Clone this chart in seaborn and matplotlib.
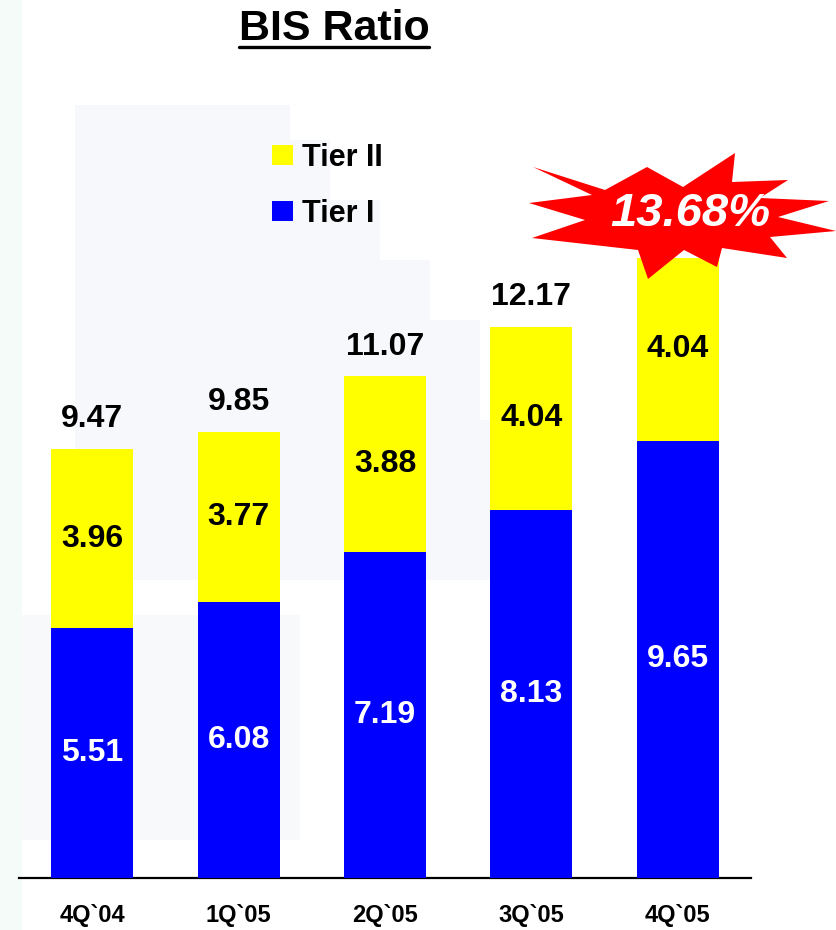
import matplotlib
matplotlib.use("Agg")
import matplotlib.pyplot as plt
from matplotlib.patches import Polygon, Patch
from matplotlib.lines import Line2D
import seaborn as sns
import pandas as pd

# Quarterly BIS capital ratio (%)
quarters = ["4Q`04", "1Q`05", "2Q`05", "3Q`05", "4Q`05"]
tier1 = [5.51, 6.08, 7.19, 8.13, 9.65]
tier2 = [3.96, 3.77, 3.88, 4.04, 4.04]
totals = [9.47, 9.85, 11.07, 12.17, 13.68]
headline = "13.68%"

YELLOW = "#ffff00"
BLUE = "#0000ff"

sns.set_theme(style="white")
plt.rcParams["font.family"] = ["Liberation Sans", "DejaVu Sans"]

W, H = 836, 930
fig = plt.figure(figsize=(W / 100, H / 100), dpi=100)
fig.patch.set_facecolor("white")


def px(x, y):
    """Pixel position (origin top-left) to figure fraction."""
    return x / W, 1 - y / H


# faint stepped backdrop shapes
steps = [(75, 105), (290, 105), (290, 140), (330, 140), (330, 200),
         (380, 200), (380, 260), (430, 260), (430, 320), (480, 320),
         (480, 420), (530, 420), (530, 580), (75, 580)]
for pts, col in [
    (steps, "#f6f8fc"),
    ([(0, 615), (300, 615), (300, 840), (0, 840)], "#f7f9fb"),
    ([(0, 0), (22, 0), (22, 930), (0, 930)], "#f5fbf9"),
]:
    fig.patches.append(Polygon([px(*p) for p in pts], closed=True,
                               transform=fig.transFigure, facecolor=col,
                               edgecolor="none", zorder=-10))

ax = fig.add_axes([19 / W, 52 / H, 732 / W, 861 / H])
ax.patch.set_alpha(0)

df = pd.DataFrame({"quarter": quarters, "tier1": tier1, "tier2": tier2})
df["stack"] = df["tier1"] + df["tier2"]

# stacked bars: full stack in yellow, Tier I drawn over it in blue
sns.barplot(data=df, x="quarter", y="stack", color=YELLOW, saturation=1,
            width=0.56, ax=ax, linewidth=0, zorder=2)
sns.barplot(data=df, x="quarter", y="tier1", color=BLUE, saturation=1,
            width=0.56, ax=ax, linewidth=0, zorder=3)

ax.set_xlim(-0.5, len(quarters) - 0.5)
ax.set_ylim(0, 19)
ax.set_xlabel("")
ax.set_ylabel("")
ax.set_yticks([])
for s in ["top", "left", "right"]:
    ax.spines[s].set_visible(False)
ax.spines["bottom"].set_color("black")
ax.spines["bottom"].set_linewidth(1.6)
ax.set_xticks(range(len(quarters)))
ax.set_xticklabels(quarters, fontsize=17, fontweight="bold", color="black")
ax.tick_params(axis="x", length=0, pad=19)

# value labels
for i in range(len(quarters)):
    ax.text(i, tier1[i] / 2, f"{tier1[i]:.2f}", ha="center", va="center",
            fontsize=23, fontweight="bold", color="white", zorder=5)
    ax.text(i, tier1[i] + tier2[i] / 2, f"{tier2[i]:.2f}", ha="center",
            va="center", fontsize=23, fontweight="bold", color="black", zorder=5)
    if i < len(quarters) - 1:
        ax.text(i, totals[i] + 0.65, f"{totals[i]:.2f}", ha="center",
                va="center", fontsize=23, fontweight="bold", color="black",
                zorder=5)

# legend
handles = [Patch(facecolor=YELLOW, edgecolor="none", label="Tier II"),
           Patch(facecolor=BLUE, edgecolor="none", label="Tier I")]
leg = fig.legend(handles=handles, loc="upper left",
                 bbox_to_anchor=px(272, 143), frameon=False,
                 prop={"size": 22, "weight": "bold"},
                 handlelength=0.68, handleheight=0.65, handletextpad=0.3,
                 labelspacing=0.85, borderpad=0, borderaxespad=0)
for t in leg.get_texts():
    t.set_color("black")

# title with underline
title = fig.text(*px(334, 29), "BIS Ratio", ha="center", va="center",
                 fontsize=31, fontweight="bold", color="black")
fig.canvas.draw()
bb = title.get_window_extent()
x0, x1 = bb.x0 / W, bb.x1 / W
uy = 1 - 47 / H
fig.lines.append(Line2D([x0, x1], [uy, uy], transform=fig.transFigure,
                        color="black", linewidth=2.4))

# starburst callout for the latest quarter
star = [(533, 167), (605, 190), (647, 167), (683, 187), (735, 153), (732, 182),
        (788, 180), (760, 198), (829, 201), (778, 217), (836, 231), (770, 237),
        (787, 258), (722, 248), (717, 267), (684, 250), (648, 279), (638, 250),
        (532, 238), (585, 220), (529, 203), (592, 195)]
fig.patches.append(Polygon([px(*p) for p in star], closed=True,
                           transform=fig.transFigure, facecolor="#ff0000",
                           edgecolor="none", zorder=20))
fig.text(*px(690, 214), headline, ha="center", va="center", fontsize=34,
         fontweight="bold", fontstyle="italic", color="white", zorder=21)

fig.savefig("out.png", dpi=100, facecolor="white")
